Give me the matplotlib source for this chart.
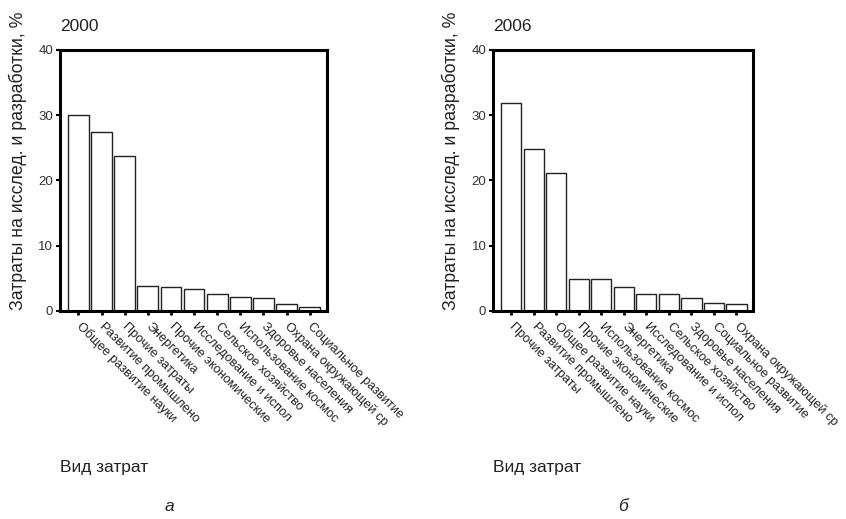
import matplotlib.pyplot as plt
import numpy as np

plt.rcParams['font.family'] = ['Liberation Sans', 'DejaVu Sans']

labels_2000 = ["Общее развитие науки", "Развитие промышлено", "Прочие затраты",
               "Энергетика", "Прочие экономические", "Исследование и испол",
               "Сельское хозяйство", "Использование космос", "Здоровье населения",
               "Охрана окружающей ср", "Социальное развитие"]
values_2000 = [30.0, 27.4, 23.7, 3.9, 3.7, 3.3, 2.55, 2.2, 1.95, 1.0, 0.6]

labels_2006 = ["Прочие затраты", "Развитие промышлено", "Общее развитие науки",
               "Прочие экономические", "Использование космос", "Энергетика",
               "Исследование и испол", "Сельское хозяйство", "Здоровье населения",
               "Социальное развитие", "Охрана окружающей ср"]
values_2006 = [31.8, 24.8, 21.1, 4.9, 4.9, 3.6, 2.55, 2.55, 1.95, 1.2, 1.0]

years = ["2000", "2006"]
panel_letters = ["а", "б"]

fig = plt.figure(figsize=(8.46, 5.19), dpi=100)
ax1 = fig.add_axes([0.0709, 0.4008, 0.3156, 0.5029])
ax2 = fig.add_axes([0.5831, 0.4008, 0.3073, 0.5029])

# per-panel label placement (axes fractions)
ylabel_x = [-0.124, -0.128]
letter_x = [0.41, 0.50]

for i, (ax, labels, vals, year, letter) in enumerate(zip(
        [ax1, ax2], [labels_2000, labels_2006], [values_2000, values_2006],
        years, panel_letters)):
    x = np.arange(len(vals))
    ax.bar(x, vals, width=0.9, color='white', edgecolor='#222222', linewidth=1.0)
    ax.set_xlim(-0.8, len(vals) - 0.25)
    ax.set_ylim(0, 40)
    ax.set_yticks([0, 10, 20, 30, 40])
    ax.set_xticks(x)
    ax.set_xticklabels(labels, rotation=-45, ha='left', va='center',
                       rotation_mode='anchor', fontsize=9.2, color='#222222')
    ax.tick_params(axis='x', length=3, width=2, direction='out', pad=7)
    ax.tick_params(axis='y', length=3, width=1.5, direction='out', labelsize=9.5,
                   labelcolor='#333333', pad=2)
    for sp in ax.spines.values():
        sp.set_linewidth(2.2)
    ax.set_title(year, loc='left', fontsize=12.5, pad=14, color='#222222')
    ax.set_ylabel("Затраты на исслед. и разработки, %", fontsize=12.8, color='#222222')
    ax.yaxis.set_label_coords(ylabel_x[i], 0.575)
    ax.text(0.0, -0.60, "Вид затрат", transform=ax.transAxes, fontsize=12.5,
            ha='left', va='center', color='#222222')
    ax.text(letter_x[i], -0.75, letter, transform=ax.transAxes, fontsize=12.5,
            style='italic', ha='center', va='center', color='#222222')

fig.savefig("out.png", dpi=100)
